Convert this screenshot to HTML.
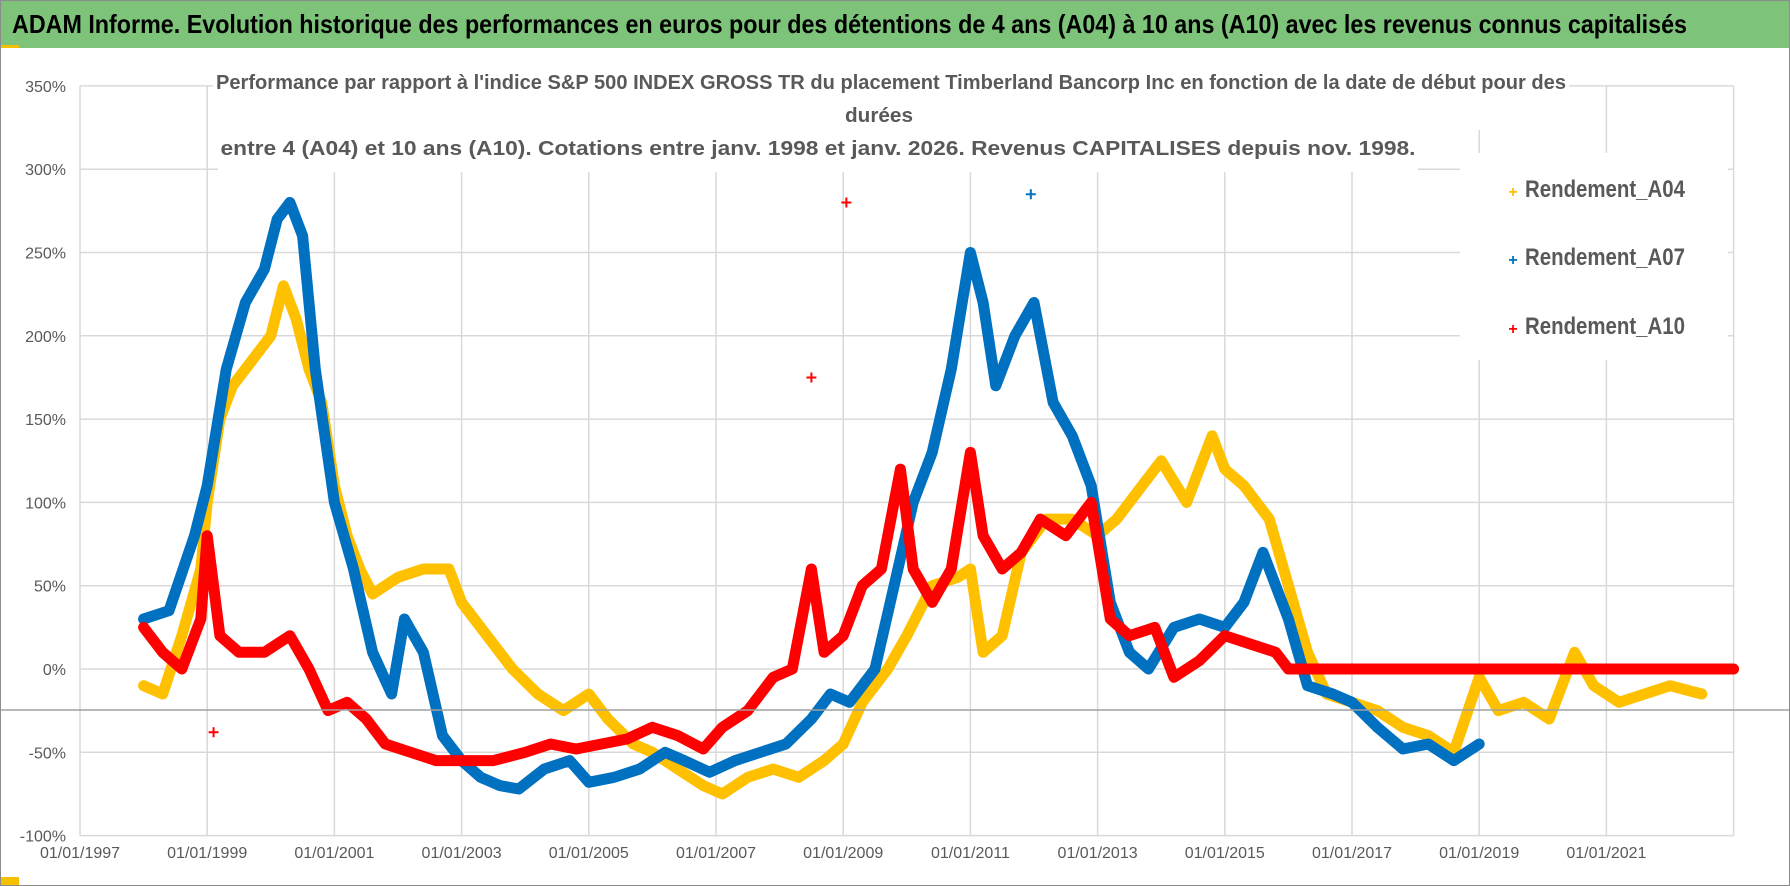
<!DOCTYPE html>
<html><head><meta charset="utf-8">
<style>
html,body{margin:0;padding:0;background:#fff;}
svg{display:block;font-family:"Liberation Sans",sans-serif;}
</style></head>
<body>
<svg id="chart" width="1790" height="886" viewBox="0 0 1790 886" xmlns="http://www.w3.org/2000/svg">
  <rect x="0.5" y="0.5" width="1789" height="885" fill="#fff" stroke="#8c8c8c"/>
  <rect x="1" y="1" width="1788" height="47" fill="#7DC47A"/>
  <rect x="1" y="45" width="18" height="3" fill="#f5c000"/>
  <text x="12" y="33" font-size="26" font-weight="bold" fill="#000" textLength="1675" lengthAdjust="spacingAndGlyphs">ADAM Informe. Evolution historique des performances en euros pour des détentions de 4 ans (A04) à 10 ans (A10) avec les revenus connus capitalisés</text>
  <g id="grid"></g>
  <g id="yticks"></g>
  <g id="xticks"></g>
  <g id="series"></g>
  <line x1="1" x2="1789" y1="710" y2="710" stroke="#a0a0a0" stroke-width="1.5"/>
  <rect x="213" y="66" width="1356" height="64" fill="#fff"/>
  <rect x="218" y="130" width="1200" height="42" fill="#fff"/>
  <g fill="#595959" font-weight="bold" font-size="20" text-anchor="middle">
    <text x="891" y="89" textLength="1350" lengthAdjust="spacingAndGlyphs">Performance par rapport à l'indice S&amp;P 500 INDEX GROSS TR  du placement Timberland Bancorp Inc en fonction de la date de début pour des</text>
    <text x="879" y="122" textLength="68" lengthAdjust="spacingAndGlyphs">durées</text>
    <text x="818" y="155" textLength="1195" lengthAdjust="spacingAndGlyphs">entre 4 (A04) et 10 ans (A10). Cotations entre janv. 1998 et janv. 2026. Revenus CAPITALISES depuis nov. 1998.</text>
  </g>
  <rect x="1460" y="153" width="268" height="207" fill="#fff"/>
  <g font-size="24" fill="#595959" font-weight="bold">
    <g><text x="1513" y="197" fill="#FFC000" font-size="16" text-anchor="middle">+</text><text x="1525" y="197" textLength="160" lengthAdjust="spacingAndGlyphs">Rendement_A04</text></g>
    <g><text x="1513" y="265" fill="#0070C0" font-size="16" text-anchor="middle">+</text><text x="1525" y="265" textLength="160" lengthAdjust="spacingAndGlyphs">Rendement_A07</text></g>
    <g><text x="1513" y="334" fill="#FF0000" font-size="16" text-anchor="middle">+</text><text x="1525" y="334" textLength="160" lengthAdjust="spacingAndGlyphs">Rendement_A10</text></g>
  </g>
  <rect x="1" y="877" width="18" height="8" fill="#f5c000"/>
</svg>
<script>
const yTicks = [350,300,250,200,150,100,50,0,-50,-100];
const xTickYears = [1997,1999,2001,2003,2005,2007,2009,2011,2013,2015,2017,2019,2021];
const xTickLabels = ["01/01/1997","01/01/1999","01/01/2001","01/01/2003","01/01/2005","01/01/2007","01/01/2009","01/01/2011","01/01/2013","01/01/2015","01/01/2017","01/01/2019","01/01/2021"];
const a04Dates = [1998.0,1998.3,1998.6,1998.9,1999.0,1999.2,1999.4,1999.6,1999.8,2000.0,2000.2,2000.4,2000.6,2000.8,2001.0,2001.2,2001.4,2001.6,2001.8,2002.0,2002.4,2002.8,2003.0,2003.4,2003.8,2004.2,2004.6,2005.0,2005.3,2005.7,2006.0,2006.4,2006.8,2007.1,2007.5,2007.9,2008.3,2008.7,2009.0,2009.3,2009.7,2010.0,2010.4,2010.8,2011.0,2011.2,2011.5,2011.8,2012.2,2012.6,2013.0,2013.3,2013.7,2014.0,2014.4,2014.8,2015.0,2015.3,2015.7,2016.0,2016.3,2016.6,2017.0,2017.4,2017.8,2018.2,2018.6,2019.0,2019.3,2019.7,2020.1,2020.5,2020.8,2021.2,2021.6,2022.0,2022.5];
const a04Values = [-10,-15,20,60,100,150,170,180,190,200,230,210,180,160,110,80,60,45,50,55,60,60,40,20,0,-15,-25,-15,-30,-45,-50,-60,-70,-75,-65,-60,-65,-55,-45,-20,0,20,50,55,60,10,20,70,90,90,80,90,110,125,100,140,120,110,90,50,10,-15,-20,-25,-35,-40,-50,-5,-25,-20,-30,10,-10,-20,-15,-10,-15];
const a07Dates = [1998.0,1998.4,1998.8,1999.0,1999.3,1999.6,1999.9,2000.1,2000.3,2000.5,2000.7,2001.0,2001.3,2001.6,2001.9,2002.1,2002.4,2002.7,2003.0,2003.3,2003.6,2003.9,2004.3,2004.7,2005.0,2005.4,2005.8,2006.2,2006.5,2006.9,2007.3,2007.7,2008.1,2008.5,2008.8,2009.1,2009.5,2009.8,2010.1,2010.4,2010.7,2011.0,2011.2,2011.4,2011.7,2012.0,2012.3,2012.6,2012.9,2013.2,2013.5,2013.8,2014.2,2014.6,2015.0,2015.3,2015.6,2016.0,2016.3,2016.7,2017.0,2017.4,2017.8,2018.2,2018.6,2019.0];
const a07Values = [30,35,80,110,180,220,240,270,280,260,180,100,60,10,-15,30,10,-40,-55,-65,-70,-72,-60,-55,-68,-65,-60,-50,-55,-62,-55,-50,-45,-30,-15,-20,0,50,100,130,180,250,220,170,200,220,160,140,110,40,10,0,25,30,25,40,70,30,-10,-15,-20,-35,-48,-45,-55,-45];
const a10Dates = [1998.0,1998.3,1998.6,1998.9,1999.0,1999.2,1999.5,1999.9,2000.3,2000.6,2000.9,2001.2,2001.5,2001.8,2002.2,2002.6,2003.0,2003.5,2004.0,2004.4,2004.8,2005.2,2005.6,2006.0,2006.4,2006.8,2007.1,2007.5,2007.9,2008.2,2008.5,2008.7,2009.0,2009.3,2009.6,2009.9,2010.1,2010.4,2010.7,2011.0,2011.2,2011.5,2011.8,2012.1,2012.5,2012.9,2013.2,2013.5,2013.9,2014.2,2014.6,2015.0,2015.4,2015.8,2016.0,2017.0,2018.0,2019.0,2020.0,2021.0,2022.0,2023.0];
const a10Values = [25,10,0,30,80,20,10,10,20,0,-25,-20,-30,-45,-50,-55,-55,-55,-50,-45,-48,-45,-42,-35,-40,-48,-35,-25,-5,0,60,10,20,50,60,120,60,40,60,130,80,60,70,90,80,100,30,20,25,-5,5,20,15,10,0,0,0,0,0,0,0,0];
const outlierDates = [2009.05, 2011.95, 2008.5, 1999.1];
const outlierValues = [280, 285, 175, -38];
const outlierSeries = ['a10', 'a07', 'a10', 'a10'];

const NS = "http://www.w3.org/2000/svg";
const X0 = 80, YEARW = 63.6, Y0 = 669, PPP = 1.666;
const COLORS = {a04:'#FFC000', a07:'#0070C0', a10:'#FF0000'};
function xScale(yr){ return X0 + (yr - 1997) * YEARW; }
function yScale(p){ return Y0 - p * PPP; }
function mk(tag, attrs, parent){ const e = document.createElementNS(NS, tag); for (const k in attrs) e.setAttribute(k, attrs[k]); parent.appendChild(e); return e; }

const grid = document.getElementById('grid');
const xL = xScale(1997), xR = xScale(2023);
yTicks.forEach(t => {
  const l = mk('line', {x1:xL, x2:xR, y1:yScale(t), y2:yScale(t), stroke:'#d9d9d9', 'stroke-width':1.5}, grid);
  
  
  const tx = mk('text', {x:66, y:yScale(t)+6, 'text-anchor':'end', 'font-size':16, fill:'#595959'}, document.getElementById('yticks'));
  tx.textContent = t + '%';
  
  
});
xTickYears.forEach((yr, i) => {
  const l = mk('line', {x1:xScale(yr), x2:xScale(yr), y1:yScale(350), y2:yScale(-100), stroke:'#d9d9d9', 'stroke-width':1.5}, grid);
  
  
  const tx = mk('text', {x:xScale(yr), y:858, 'text-anchor':'middle', 'font-size':16, fill:'#595959'}, document.getElementById('xticks'));
  tx.textContent = xTickLabels[i];
  
  
});
const lastGrid = mk('line', {x1:xR, x2:xR, y1:yScale(350), y2:yScale(-100), stroke:'#d9d9d9', 'stroke-width':1.5}, grid);



function plus(g, x, y, color, name){
  const p = mk('path', {d:`M${x-5},${y}H${x+5}M${x},${y-5}V${y+5}`, stroke:color, 'stroke-width':2}, g);
  
  
}
function drawSeries(dates, vals, color, name){
  const g = mk('g', {}, document.getElementById('series'));
  
  
  const pts = dates.map((d,i) => xScale(d).toFixed(1) + ',' + yScale(vals[i]).toFixed(1)).join(' ');
  const pl = mk('polyline', {points:pts, fill:'none', stroke:color, 'stroke-width':11, 'stroke-linejoin':'round', 'stroke-linecap':'round'}, g);
  
  
  dates.forEach((d,i) => plus(g, xScale(d), yScale(vals[i]), color, name));
  return g;
}
const gA04 = drawSeries(a04Dates, a04Values, COLORS.a04, 'series-a04');
const gA07 = drawSeries(a07Dates, a07Values, COLORS.a07, 'series-a07');
const gA10 = drawSeries(a10Dates, a10Values, COLORS.a10, 'series-a10');
outlierDates.forEach((d,i) => {
  const s = outlierSeries[i];
  const g = s === 'a07' ? gA07 : gA10;
  plus(g, xScale(d), yScale(outlierValues[i]), COLORS[s], 'series-' + s + '-outlier');
});
</script>
</body></html>
